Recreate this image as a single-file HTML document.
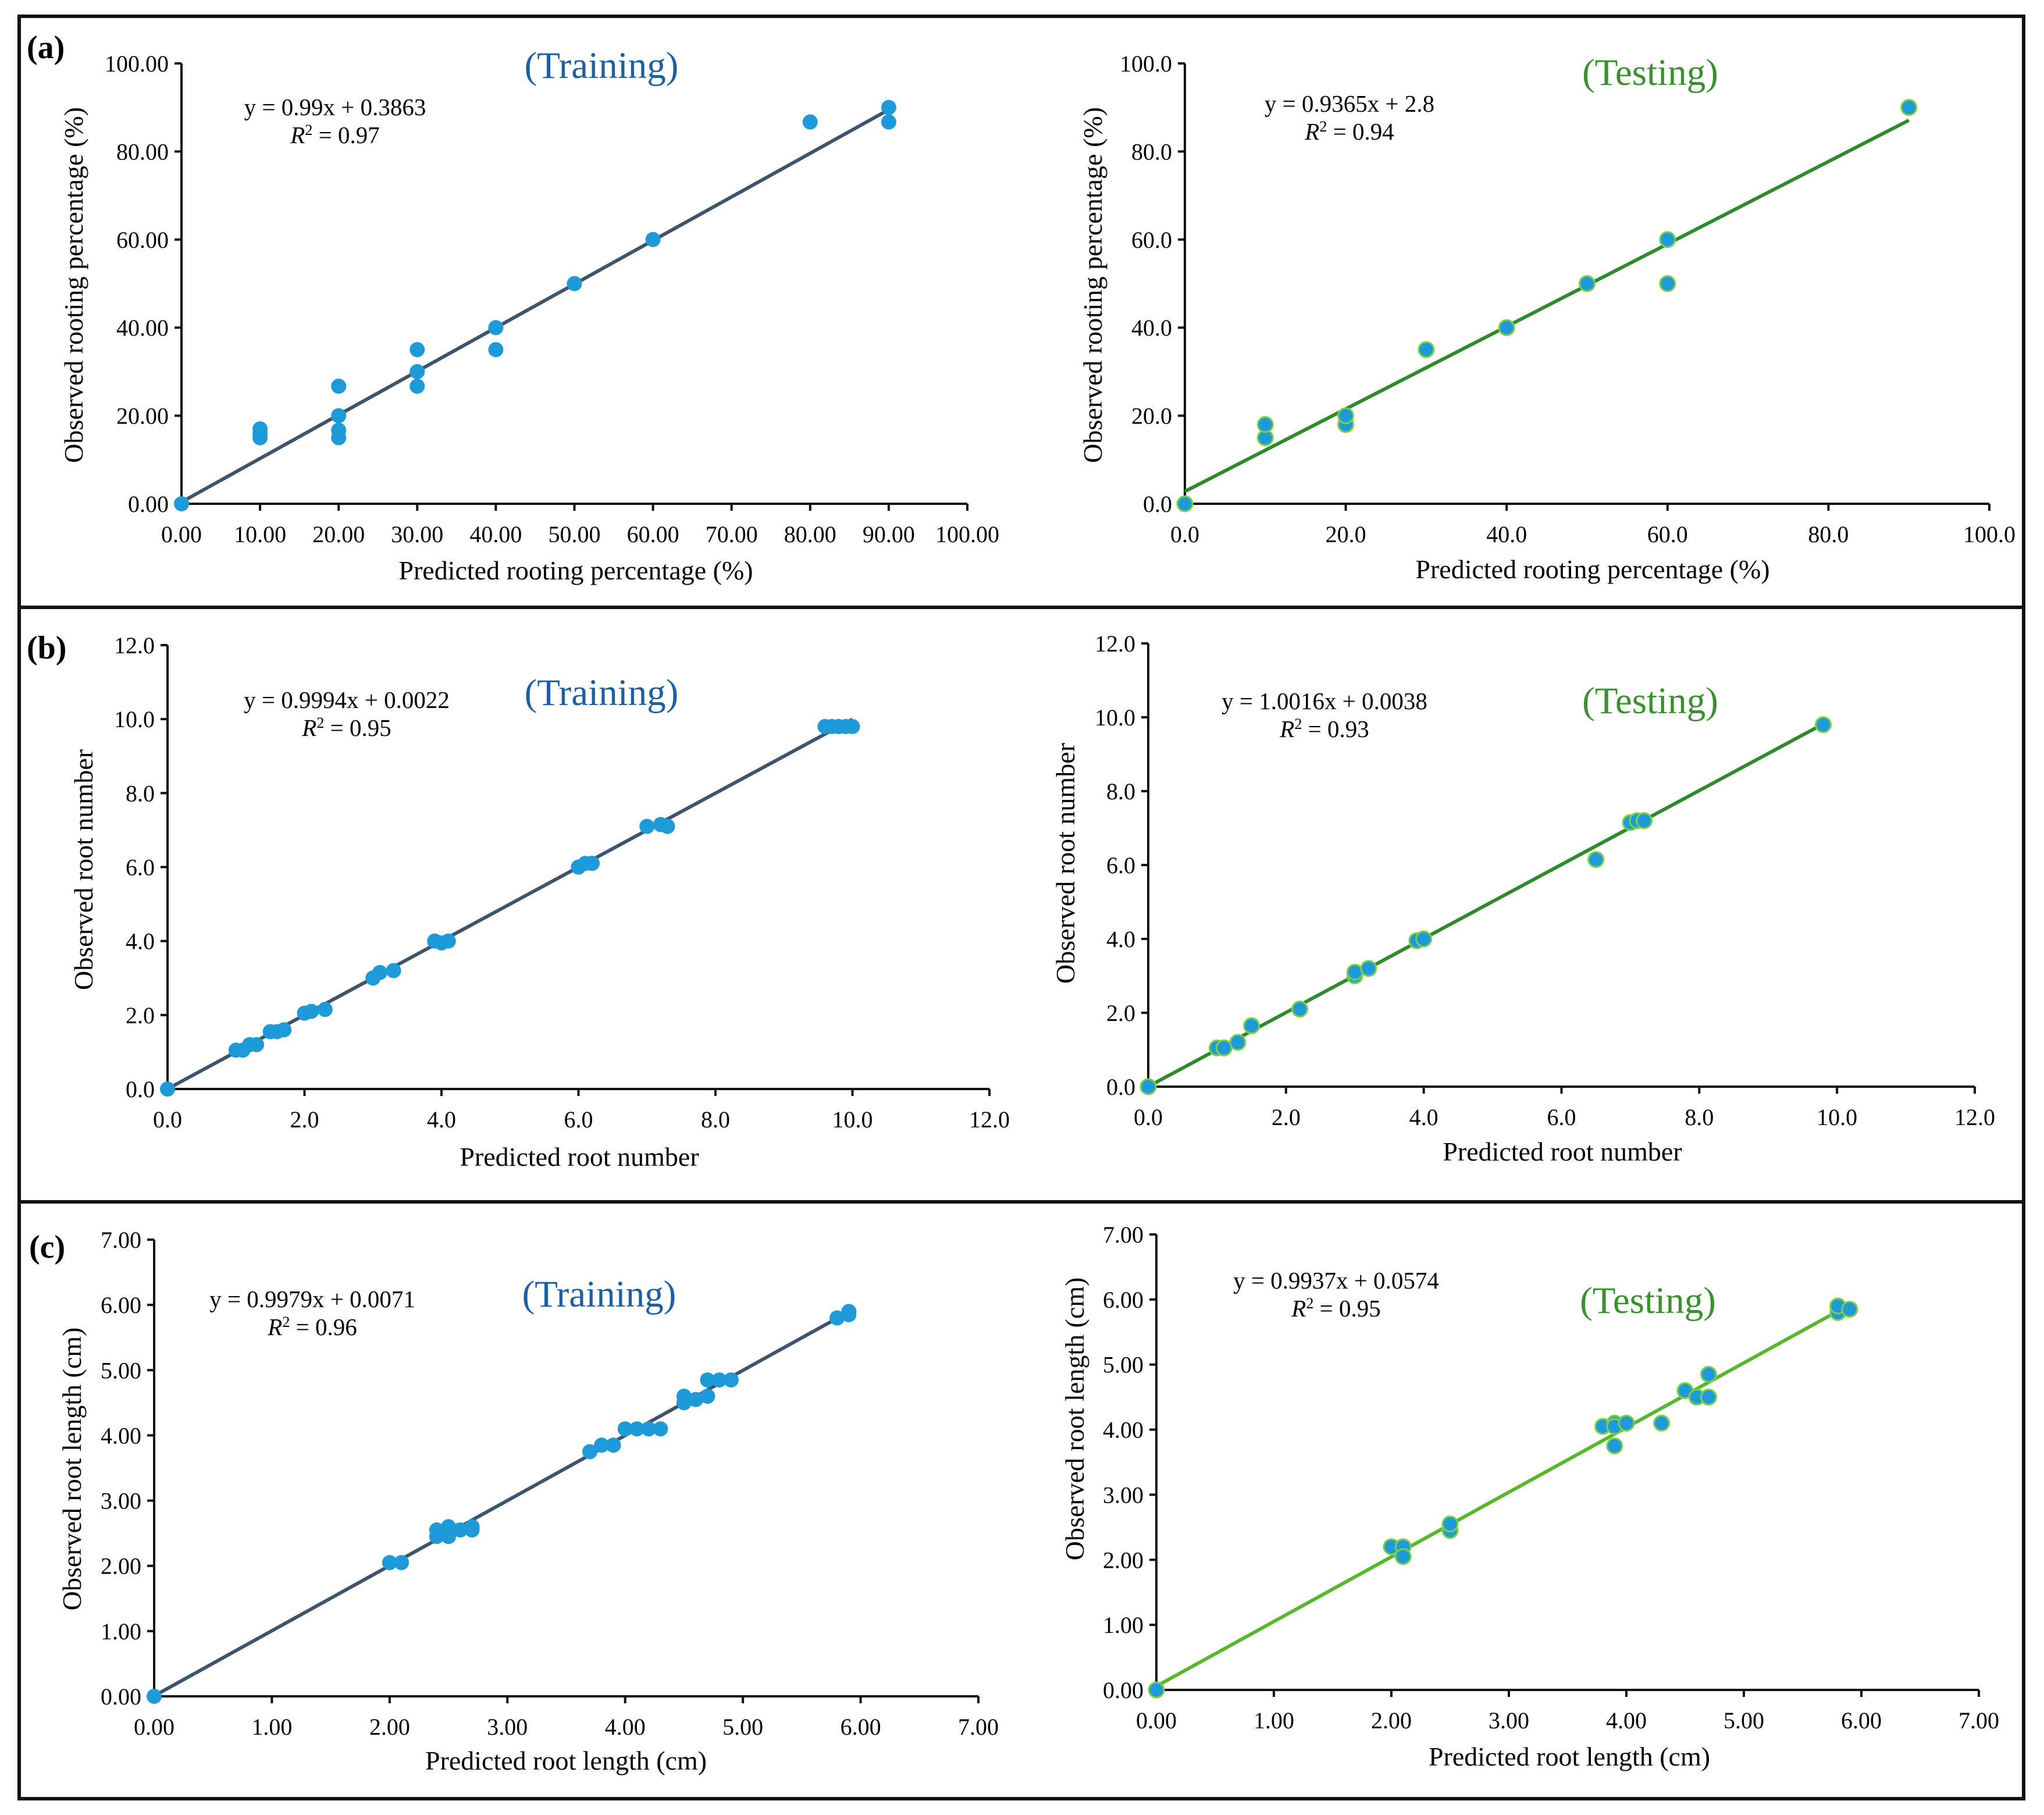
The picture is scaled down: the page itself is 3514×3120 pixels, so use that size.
<!DOCTYPE html>
<html><head><meta charset="utf-8">
<style>
html,body{margin:0;padding:0;background:#fff;}
svg{display:block;}
text{font-family:"Liberation Serif",serif;}
</style></head>
<body>
<svg id="fig" xmlns="http://www.w3.org/2000/svg" width="3514" height="3120" viewBox="0 0 3514 3120">
<rect x="0" y="0" width="3514" height="3120" fill="#fff"/>
<rect x="33" y="28" width="3446" height="3064" fill="none" stroke="#111" stroke-width="6"/>
<line x1="33" y1="1044" x2="3479" y2="1044" stroke="#111" stroke-width="6"/>
<line x1="33" y1="2066" x2="3479" y2="2066" stroke="#111" stroke-width="6"/>
<text x="46" y="100" font-size="56" font-weight="bold">(a)</text>
<text x="46" y="1132" font-size="56" font-weight="bold">(b)</text>
<text x="50" y="2162" font-size="56" font-weight="bold">(c)</text>
</svg>
<script>
// ---- data ----
const aTrainX = [0,10,10,10,20,20,20,20,30,30,30,40,40,50,60,80,90,90];
const aTrainY = [0,15,16,17,15,16.7,20,26.7,26.7,30,35,35,40,50,60,86.7,86.7,90];
const aTestX = [0,10,10,20,20,30,40,50,60,60,90];
const aTestY = [0,15,18,18,20,35,40,50,50,60,90];
const bTrainX = [0,1,1.1,1.2,1.3,1.5,1.6,1.7,2,2.1,2.3,3,3.1,3.3,3.9,4,4.1,6,6.1,6.2,7,7.2,7.3,9.6,9.7,9.8,9.9,10];
const bTrainY = [0,1.05,1.05,1.2,1.2,1.55,1.55,1.6,2.05,2.1,2.15,3,3.15,3.2,4,3.95,4,6,6.1,6.1,7.1,7.15,7.1,9.8,9.8,9.8,9.8,9.8];
const bTestX = [0,1,1.1,1.3,1.5,2.2,3,3,3.2,3.9,4,6.5,7,7.1,7.2,9.8];
const bTestY = [0,1.05,1.05,1.2,1.65,2.1,3,3.1,3.2,3.95,4,6.15,7.15,7.2,7.2,9.8];
const cTrainX = [0,2,2.1,2.4,2.4,2.5,2.5,2.6,2.7,2.7,3.7,3.8,3.9,4,4.1,4.2,4.3,4.5,4.5,4.6,4.7,4.7,4.8,4.9,5.8,5.9,5.9];
const cTrainY = [0,2.05,2.05,2.45,2.55,2.45,2.6,2.55,2.55,2.6,3.75,3.85,3.85,4.1,4.1,4.1,4.1,4.5,4.6,4.55,4.6,4.85,4.85,4.85,5.8,5.85,5.9];
const cTestX = [0,2,2.1,2.1,2.5,2.5,3.8,3.9,3.9,3.9,4,4.3,4.5,4.6,4.7,4.7,5.8,5.8,5.9];
const cTestY = [0,2.2,2.2,2.05,2.45,2.55,4.05,4.1,4.05,3.75,4.1,4.1,4.6,4.5,4.5,4.85,5.8,5.9,5.85];
const aTrainFit = [0.99, 0.3863, 0, 90];
const aTestFit = [0.9365, 2.8, 0, 90];
const bTrainFit = [0.9994, 0.0022, 0, 10];
const bTestFit = [1.0016, 0.0038, 0, 9.8];
const cTrainFit = [0.9979, 0.0071, 0, 5.9];
const cTestFit = [0.9937, 0.0574, 0, 5.9];
const aTrainXTicks = [0,10,20,30,40,50,60,70,80,90,100];
const aTestXTicks = [0,20,40,60,80,100];
const aYTicks = [0,20,40,60,80,100];
const bTicks = [0,2,4,6,8,10,12];
const cTicks = [0,1,2,3,4,5,6,7];

const NS = 'http://www.w3.org/2000/svg';
const svg = document.getElementById('fig');
function mk(tag, attrs, parent, txt){
  const e = document.createElementNS(NS, tag);
  for (const k in attrs) e.setAttribute(k, attrs[k]);
  if (txt !== undefined) e.textContent = txt;
  (parent || svg).appendChild(e);
  return e;
}

function panel(cfg){
  const g = mk('g', {});
  
  
  const sx = v => cfg.x0 + (v - cfg.min) / (cfg.max - cfg.min) * (cfg.x1 - cfg.x0);
  const sy = v => cfg.y0 - (v - cfg.min) / (cfg.max - cfg.min) * (cfg.y0 - cfg.y1);
  const ya = mk('line', {x1: cfg.x0, y1: cfg.y1, x2: cfg.x0, y2: cfg.y0, stroke: '#111', 'stroke-width': 4}, g);
  
  
  const xa = mk('line', {x1: cfg.x0, y1: cfg.y0, x2: cfg.x1, y2: cfg.y0, stroke: '#111', 'stroke-width': 4}, g);
  
  
  cfg.yTicks.forEach(v => {
    const y = sy(v);
    mk('line', {x1: cfg.x0 - 12, y1: y, x2: cfg.x0, y2: y, stroke: '#111', 'stroke-width': 4}, g);
    const t = mk('text', {x: cfg.x0 - 22, y: y + 14, 'font-size': 40, 'text-anchor': 'end'}, g, v.toFixed(cfg.dec));
    
    
  });
  cfg.xTicks.forEach(v => {
    const x = sx(v);
    mk('line', {x1: x, y1: cfg.y0, x2: x, y2: cfg.y0 + 12, stroke: '#111', 'stroke-width': 4}, g);
    const t = mk('text', {x: x, y: cfg.y0 + 66, 'font-size': 40, 'text-anchor': 'middle'}, g, v.toFixed(cfg.dec));
    
    
  });
  const f = cfg.fit;
  const fl = mk('line', {x1: sx(f[2]), y1: sy(f[0]*f[2]+f[1]), x2: sx(f[3]), y2: sy(f[0]*f[3]+f[1]), stroke: cfg.lineColor, 'stroke-width': 6}, g);
  
  
  cfg.xs.forEach((xv, i) => {
    const c = mk('ellipse', {cx: sx(xv), cy: sy(cfg.ys[i]), rx: 13, ry: 13, fill: '#1f9ad8', stroke: cfg.test ? '#7cd043' : 'none', 'stroke-width': cfg.test ? 3 : 0}, g);
    
    
  });
  const xt = mk('text', {x: cfg.xtX, y: cfg.xtY, 'font-size': 46, 'text-anchor': 'middle'}, g, cfg.xTitle);
  
  
  const yt = mk('text', {x: 0, y: 0, 'font-size': 46, 'text-anchor': 'middle', transform: `translate(${cfg.ytX},${cfg.ytY}) rotate(-90)`}, g, cfg.yTitle);
  
  
  const ti = mk('text', {x: cfg.tiX, y: cfg.tiY, 'font-size': 65, 'text-anchor': 'middle', fill: cfg.test ? '#3a8f2f' : '#1d5fa0'}, g, cfg.test ? '(Testing)' : '(Training)');
  
  
  const eq = mk('text', {x: cfg.eqX, y: cfg.eqY, 'font-size': 41, 'text-anchor': 'middle'}, g, cfg.eq);
  
  
  const r2 = mk('text', {x: cfg.eqX, y: cfg.eqY + 48, 'font-size': 41, 'text-anchor': 'middle'}, g);
  
  
  mk('tspan', {'font-style': 'italic'}, r2, 'R');
  mk('tspan', {'font-size': 26, dy: -14}, r2, '2');
  mk('tspan', {dy: 14}, r2, ' = ' + cfg.r2);
}

const gold = '#3e5468';
panel({name:'panel-a-training', x0:312, x1:1663, y0:866, y1:109, min:0, max:100, dec:2, xTicks:aTrainXTicks, yTicks:aYTicks,
  xs:aTrainX, ys:aTrainY, fit:aTrainFit, lineColor:gold, test:false,
  xTitle:'Predicted rooting percentage (%)', yTitle:'Observed rooting percentage (%)', xtX:990, xtY:996, ytX:142, ytY:490,
  tiX:1034, tiY:134, eq:'y = 0.99x + 0.3863', eqX:576, eqY:198, r2:'0.97'});
panel({name:'panel-a-testing', x0:2037, x1:3420, y0:866, y1:109, min:0, max:100, dec:1, xTicks:aTestXTicks, yTicks:aYTicks,
  xs:aTestX, ys:aTestY, fit:aTestFit, lineColor:'#2e8a2a', test:true,
  xTitle:'Predicted rooting percentage (%)', yTitle:'Observed rooting percentage (%)', xtX:2738, xtY:994, ytX:1894, ytY:490,
  tiX:2837, tiY:146, eq:'y = 0.9365x + 2.8', eqX:2320, eqY:192, r2:'0.94'});
panel({name:'panel-b-training', x0:288, x1:1701, y0:1872, y1:1109, min:0, max:12, dec:1, xTicks:bTicks, yTicks:bTicks,
  xs:bTrainX, ys:bTrainY, fit:bTrainFit, lineColor:gold, test:false,
  xTitle:'Predicted root number', yTitle:'Observed root number', xtX:996, xtY:2004, ytX:159, ytY:1495,
  tiX:1034, tiY:1212, eq:'y = 0.9994x + 0.0022', eqX:596, eqY:1217, r2:'0.95'});
panel({name:'panel-b-testing', x0:1974, x1:3395, y0:1868, y1:1106, min:0, max:12, dec:1, xTicks:bTicks, yTicks:bTicks,
  xs:bTestX, ys:bTestY, fit:bTestFit, lineColor:'#2e8a2a', test:true,
  xTitle:'Predicted root number', yTitle:'Observed root number', xtX:2686, xtY:1995, ytX:1847, ytY:1484,
  tiX:2837, tiY:1226, eq:'y = 1.0016x + 0.0038', eqX:2277, eqY:1219, r2:'0.93'});
panel({name:'panel-c-training', x0:265, x1:1682, y0:2916, y1:2131, min:0, max:7, dec:2, xTicks:cTicks, yTicks:cTicks,
  xs:cTrainX, ys:cTrainY, fit:cTrainFit, lineColor:gold, test:false,
  xTitle:'Predicted root length (cm)', yTitle:'Observed root length (cm)', xtX:973, xtY:3042, ytX:139, ytY:2525,
  tiX:1030, tiY:2246, eq:'y = 0.9979x + 0.0071', eqX:537, eqY:2247, r2:'0.96'});
panel({name:'panel-c-testing', x0:1988, x1:3402, y0:2905, y1:2122, min:0, max:7, dec:2, xTicks:cTicks, yTicks:cTicks,
  xs:cTestX, ys:cTestY, fit:cTestFit, lineColor:'#56b82c', test:true,
  xTitle:'Predicted root length (cm)', yTitle:'Observed root length (cm)', xtX:2698, xtY:3035, ytX:1863, ytY:2439,
  tiX:2833, tiY:2257, eq:'y = 0.9937x + 0.0574', eqX:2297, eqY:2215, r2:'0.95'});
</script>
</body></html>
